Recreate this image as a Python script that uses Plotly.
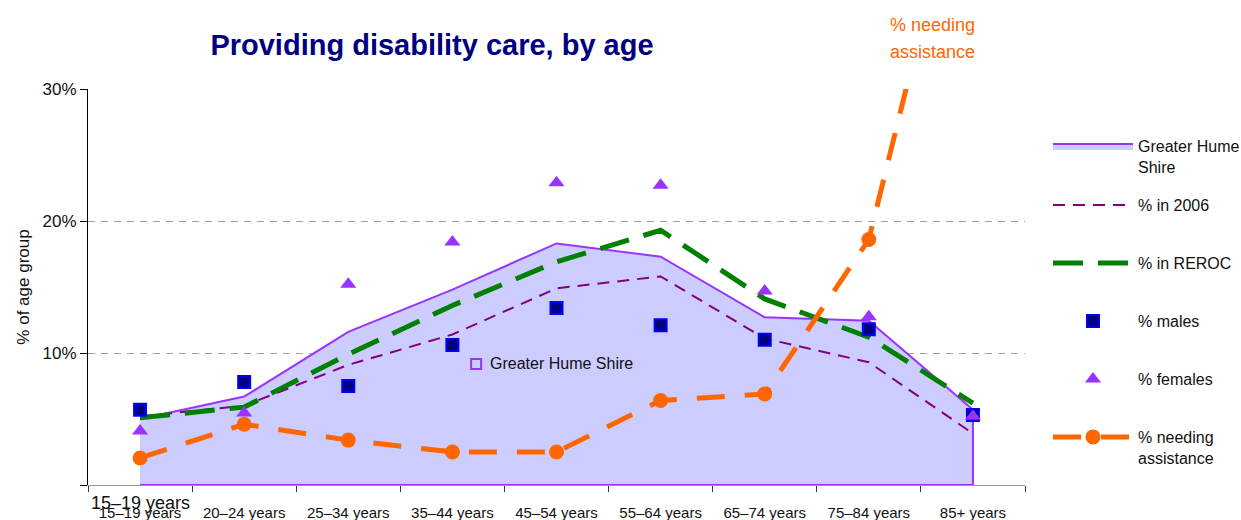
import plotly.graph_objects as go

categories = ["15–19 years", "20–24 years", "25–34 years", "35–44 years", "45–54 years",
              "55–64 years", "65–74 years", "75–84 years", "85+ years"]
greater_hume = [5.0, 6.7, 11.6, 14.8, 18.3, 17.3, 12.7, 12.45, 5.7]
pct_2006 = [5.2, 6.0, 9.1, 11.4, 14.9, 15.8, 11.1, 9.3, 3.9]
pct_reroc = [5.1, 5.9, 9.9, 13.6, 16.9, 19.3, 14.1, 11.2, 6.2]
pct_males = [5.7, 7.8, 7.5, 10.6, 13.4, 12.1, 11.0, 11.8, 5.3]
pct_females = [4.1, 5.45, 15.2, 18.4, 22.9, 22.7, 14.7, 12.75, 5.2]
pct_needing = [2.05, 4.6, 3.4, 2.5, 2.5, 6.4, 6.9, 18.6, 50.5]

y_ticks = [0, 10, 20, 30]
y_tick_text = ["", "10%", "20%", "30%"]

FONT = "Liberation Sans, Arial, Helvetica, sans-serif"

# page body margin is removed by the post script, so screen px == figure px
OFF = 0
S_LEFT, S_RIGHT, S_TOP, S_BOTTOM = 88, 1025, 89, 485
W, H = 1241, 520
PW, PH = S_RIGHT - S_LEFT, S_BOTTOM - S_TOP


def py(px):
    return (S_BOTTOM - px) / PH


def px_(sx):
    return (sx - S_LEFT) / PW


fig = go.Figure()

fig.add_trace(go.Scatter(
    x=categories + [categories[-1], categories[0]],
    y=greater_hume + [0, 0],
    fill="toself", fillcolor="#ccccff",
    mode="lines", line=dict(color="#9933ff", width=2),
    name="Greater Hume<br>Shire", legend="legend", hoverinfo="skip",
))
fig.add_trace(go.Scatter(
    x=categories, y=pct_2006, mode="lines",
    line=dict(color="#800080", width=2, dash="12px,8px"),
    name="% in 2006", legend="legend2",
))
fig.add_trace(go.Scatter(
    x=categories, y=pct_reroc, mode="lines",
    line=dict(color="#008000", width=5, dash="30px,15px"),
    name="% in REROC", legend="legend3",
))
fig.add_trace(go.Scatter(
    x=categories, y=pct_needing, mode="lines+markers",
    line=dict(color="#ff6600", width=5, dash="28px,20px"),
    marker=dict(symbol="circle", size=15, color="#ff6600"),
    name="% needing<br>assistance", legend="legend6",
))
fig.add_trace(go.Scatter(
    x=categories, y=pct_males, mode="markers",
    marker=dict(symbol="square", size=12, color="#000080", line=dict(color="#0000ff", width=2)),
    name="% males", legend="legend4",
))
fig.add_trace(go.Scatter(
    x=categories, y=pct_females, mode="markers",
    marker=dict(symbol="triangle-up", size=14, color="#9933ff"),
    name="% females", legend="legend5",
))

legend_base = dict(
    x=px_(1048), xanchor="left", yanchor="top",
    font=dict(family=FONT, size=16, color="#111111"),
    itemwidth=80, valign="top", bgcolor="rgba(0,0,0,0)",
    borderwidth=0, itemclick=False, itemdoubleclick=False,
)
legend_rows = {"legend": 146, "legend2": 205, "legend3": 263,
               "legend4": 321, "legend5": 379, "legend6": 437}
legend_layout = {k: dict(legend_base, y=py(v - 17)) for k, v in legend_rows.items()}

fig.update_layout(
    width=W, height=H,
    margin=dict(l=S_LEFT - OFF, r=W - (S_RIGHT - OFF), t=S_TOP - OFF, b=H - (S_BOTTOM - OFF),
                autoexpand=False),
    paper_bgcolor="white", plot_bgcolor="white",
    font=dict(family=FONT, size=16, color="#111111"),
    title=dict(text="<b>Providing disability care, by age</b>",
               font=dict(family=FONT, size=29, color="#000080"),
               x=(432 - OFF) / W, xanchor="center", xref="container",
               y=1 - (45 - OFF) / H, yanchor="middle", yref="container"),
    showlegend=True,
    **legend_layout,
    xaxis=dict(
        type="category", categoryorder="array", categoryarray=categories,
        range=[-0.5, len(categories) - 0.5],
        tickson="boundaries", ticks="outside", ticklen=6, tickcolor="#333333",
        ticklabelstandoff=14,
        showline=True, linecolor="#999999", linewidth=1,
        showgrid=False, zeroline=False, layer="below traces",
        tickfont=dict(family=FONT, size=15, color="#111111"),
        fixedrange=True,
    ),
    yaxis=dict(
        range=[0, 30], tickvals=y_ticks, ticktext=y_tick_text,
        ticks="outside", ticklen=7, tickcolor="#000000",
        showline=True, linecolor="#000000", linewidth=1,
        showgrid=True, gridcolor="#a0a0a0", griddash="7px,6px", gridwidth=1,
        zeroline=False,
        tickfont=dict(family=FONT, size=17, color="#111111"),
        title=dict(text="% of age group", font=dict(family=FONT, size=17, color="#111111"),
                   standoff=8),
        fixedrange=True,
    ),
    annotations=[
        dict(text="% needing", x=px_(932), xref="paper", y=py(25), yref="paper",
             xanchor="center", yanchor="middle", showarrow=False,
             font=dict(family=FONT, size=18, color="#ff6600")),
        dict(text="assistance", x=px_(932), xref="paper", y=py(52), yref="paper",
             xanchor="center", yanchor="middle", showarrow=False,
             font=dict(family=FONT, size=18, color="#ff6600")),
        dict(text="Greater Hume Shire", x=3.343, xref="x", y=9.17, yref="y",
             xanchor="left", yanchor="middle", showarrow=False,
             font=dict(family=FONT, size=16, color="#111111")),
        dict(text=categories[0], x=0, xref="x", y=py(503), yref="paper",
             xanchor="center", yanchor="middle", showarrow=False,
             font=dict(family=FONT, size=18, color="#111111")),
    ],
    shapes=[
        dict(type="rect", xref="x", yref="y", x0=3.18, x1=3.276, y0=8.79, y1=9.55,
             line=dict(color="#9933ff", width=2), fillcolor="rgba(0,0,0,0)"),
    ],
)

fig.write_html(
    "out.html",
    config=dict(displayModeBar=False),
    post_script="document.body.style.margin='0';"
                "document.documentElement.style.overflow='hidden';"
                "document.body.style.overflow='hidden';",
)
